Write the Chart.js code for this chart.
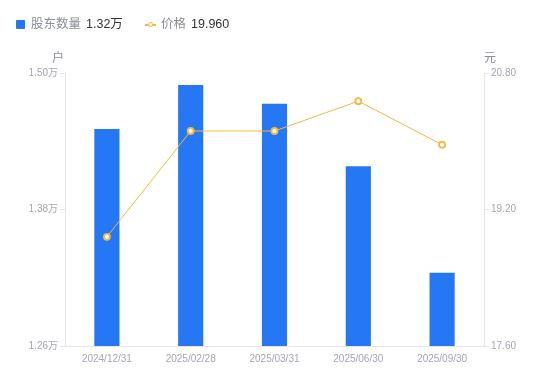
<!DOCTYPE html>
<html>
<head>
<meta charset="utf-8">
<script src="https://cdn.jsdelivr.net/npm/chart.js@4"></script>
<style>
  body { margin: 0; background: #fff; font-family: "Liberation Sans", "Noto Sans CJK SC", sans-serif; }
  #wrap { position: relative; width: 550px; height: 381px; }
  #chart { position: absolute; left: 0; top: 0; }
  .lg { position: absolute; top: 16px; font-size: 12.5px; line-height: 16px; white-space: nowrap; }
  .lg .name { color: #8a8d99; }
  .lg .val { color: #333; margin-left: 5px; }
  .sq { display: inline-block; width: 9px; height: 9px; background: #2677f4; border-radius: 1px; margin-right: 6px; vertical-align: -1px; }
  .ln { display: inline-block; position: relative; width: 11px; height: 9px; margin-right: 5px; vertical-align: -1px; }
  .ln:before { content: ""; position: absolute; left: 0; right: 0; top: 4px; height: 1.5px; background: #f7b844; }
  .ln:after { content: ""; position: absolute; left: 2.5px; top: 1.5px; width: 3px; height: 3px; border: 1.5px solid #f7b844; border-radius: 50%; background: #fff; }
</style>
</head>
<body>
<div id="wrap">
  <canvas id="chart" width="550" height="381"></canvas>
  <div class="lg" style="left:16px"><span class="sq"></span><span class="name">股东数量</span><span class="val">1.32万</span></div>
  <div class="lg" style="left:145px"><span class="ln"></span><span class="name">价格</span><span class="val">19.960</span></div>
</div>
<script>
const dates = ["2024/12/31", "2025/02/28", "2025/03/31", "2025/06/30", "2025/09/30"];
const holders = [14508, 14894, 14730, 14180, 13245];
const prices = [18.88, 20.12, 20.12, 20.47, 19.96];
const holderTicks = [12600, 15000];
const priceTicks = [17.6, 20.8];

const labelColor = "#a3a6b4";
const lineColor = "#e6e6e9";
const font = { family: '"Liberation Sans", "Noto Sans CJK SC", sans-serif', size: 10 };

// unit labels above both value axes
const unitTitles = {
    id: "unitTitles",
    afterDraw(chart) {
        const c = chart.ctx;
        const a = chart.chartArea;
        c.save();
        c.font = '12px "Noto Sans CJK SC", sans-serif';
        c.fillStyle = "#8a8d99";
        c.textAlign = "center";
        c.textBaseline = "middle";
        c.fillText("户", a.left - 7, a.top - 16);
        c.fillText("元", a.right + 6, a.top - 16);
        c.restore();
    }
};

new Chart(document.getElementById("chart"), {
    data: {
        labels: dates,
        datasets: [
            {
                type: "line",
                label: "价格",
                data: prices,
                yAxisID: "y1",
                borderColor: "#f6b63f",
                borderWidth: 1,
                pointRadius: 3,
                pointBorderWidth: 1.8,
                pointBackgroundColor: "#fff",
                pointBorderColor: "#f6b63f",
                tension: 0,
                order: 0
            },
            {
                type: "bar",
                label: "股东数量",
                data: holders,
                yAxisID: "y",
                backgroundColor: "#2677f4",
                barPercentage: 0.3,
                categoryPercentage: 1,
                order: 1
            }
        ]
    },
    options: {
        responsive: false,
        animation: false,
        layout: { padding: { top: 73, left: 0, right: 0, bottom: 0 } },
        plugins: { legend: { display: false }, tooltip: { enabled: false } },
        scales: {
            x: {
                grid: { display: false, drawTicks: false },
                border: { display: true, color: lineColor },
                ticks: { color: labelColor, font: font, padding: 7, maxRotation: 0 },
                afterFit: s => { s.height = 35; }
            },
            y: {
                position: "left",
                min: holderTicks[0],
                max: holderTicks[1],
                grid: { drawOnChartArea: false, drawTicks: true, tickLength: 5, color: lineColor },
                border: { display: true, color: lineColor },
                ticks: {
                    count: 3,
                    color: labelColor,
                    font: font,
                    padding: 2,
                    callback: v => (v / 10000).toFixed(2) + "万"
                },
                afterFit: s => { s.width = 65; }
            },
            y1: {
                position: "right",
                min: priceTicks[0],
                max: priceTicks[1],
                grid: { drawOnChartArea: false, drawTicks: true, tickLength: 5, color: lineColor },
                border: { display: true, color: lineColor },
                ticks: {
                    count: 3,
                    color: labelColor,
                    font: font,
                    padding: 2,
                    callback: v => Number(v).toFixed(2)
                },
                afterFit: s => { s.width = 66; }
            }
        }
    },
    plugins: [unitTitles]
});
</script>
</body>
</html>
